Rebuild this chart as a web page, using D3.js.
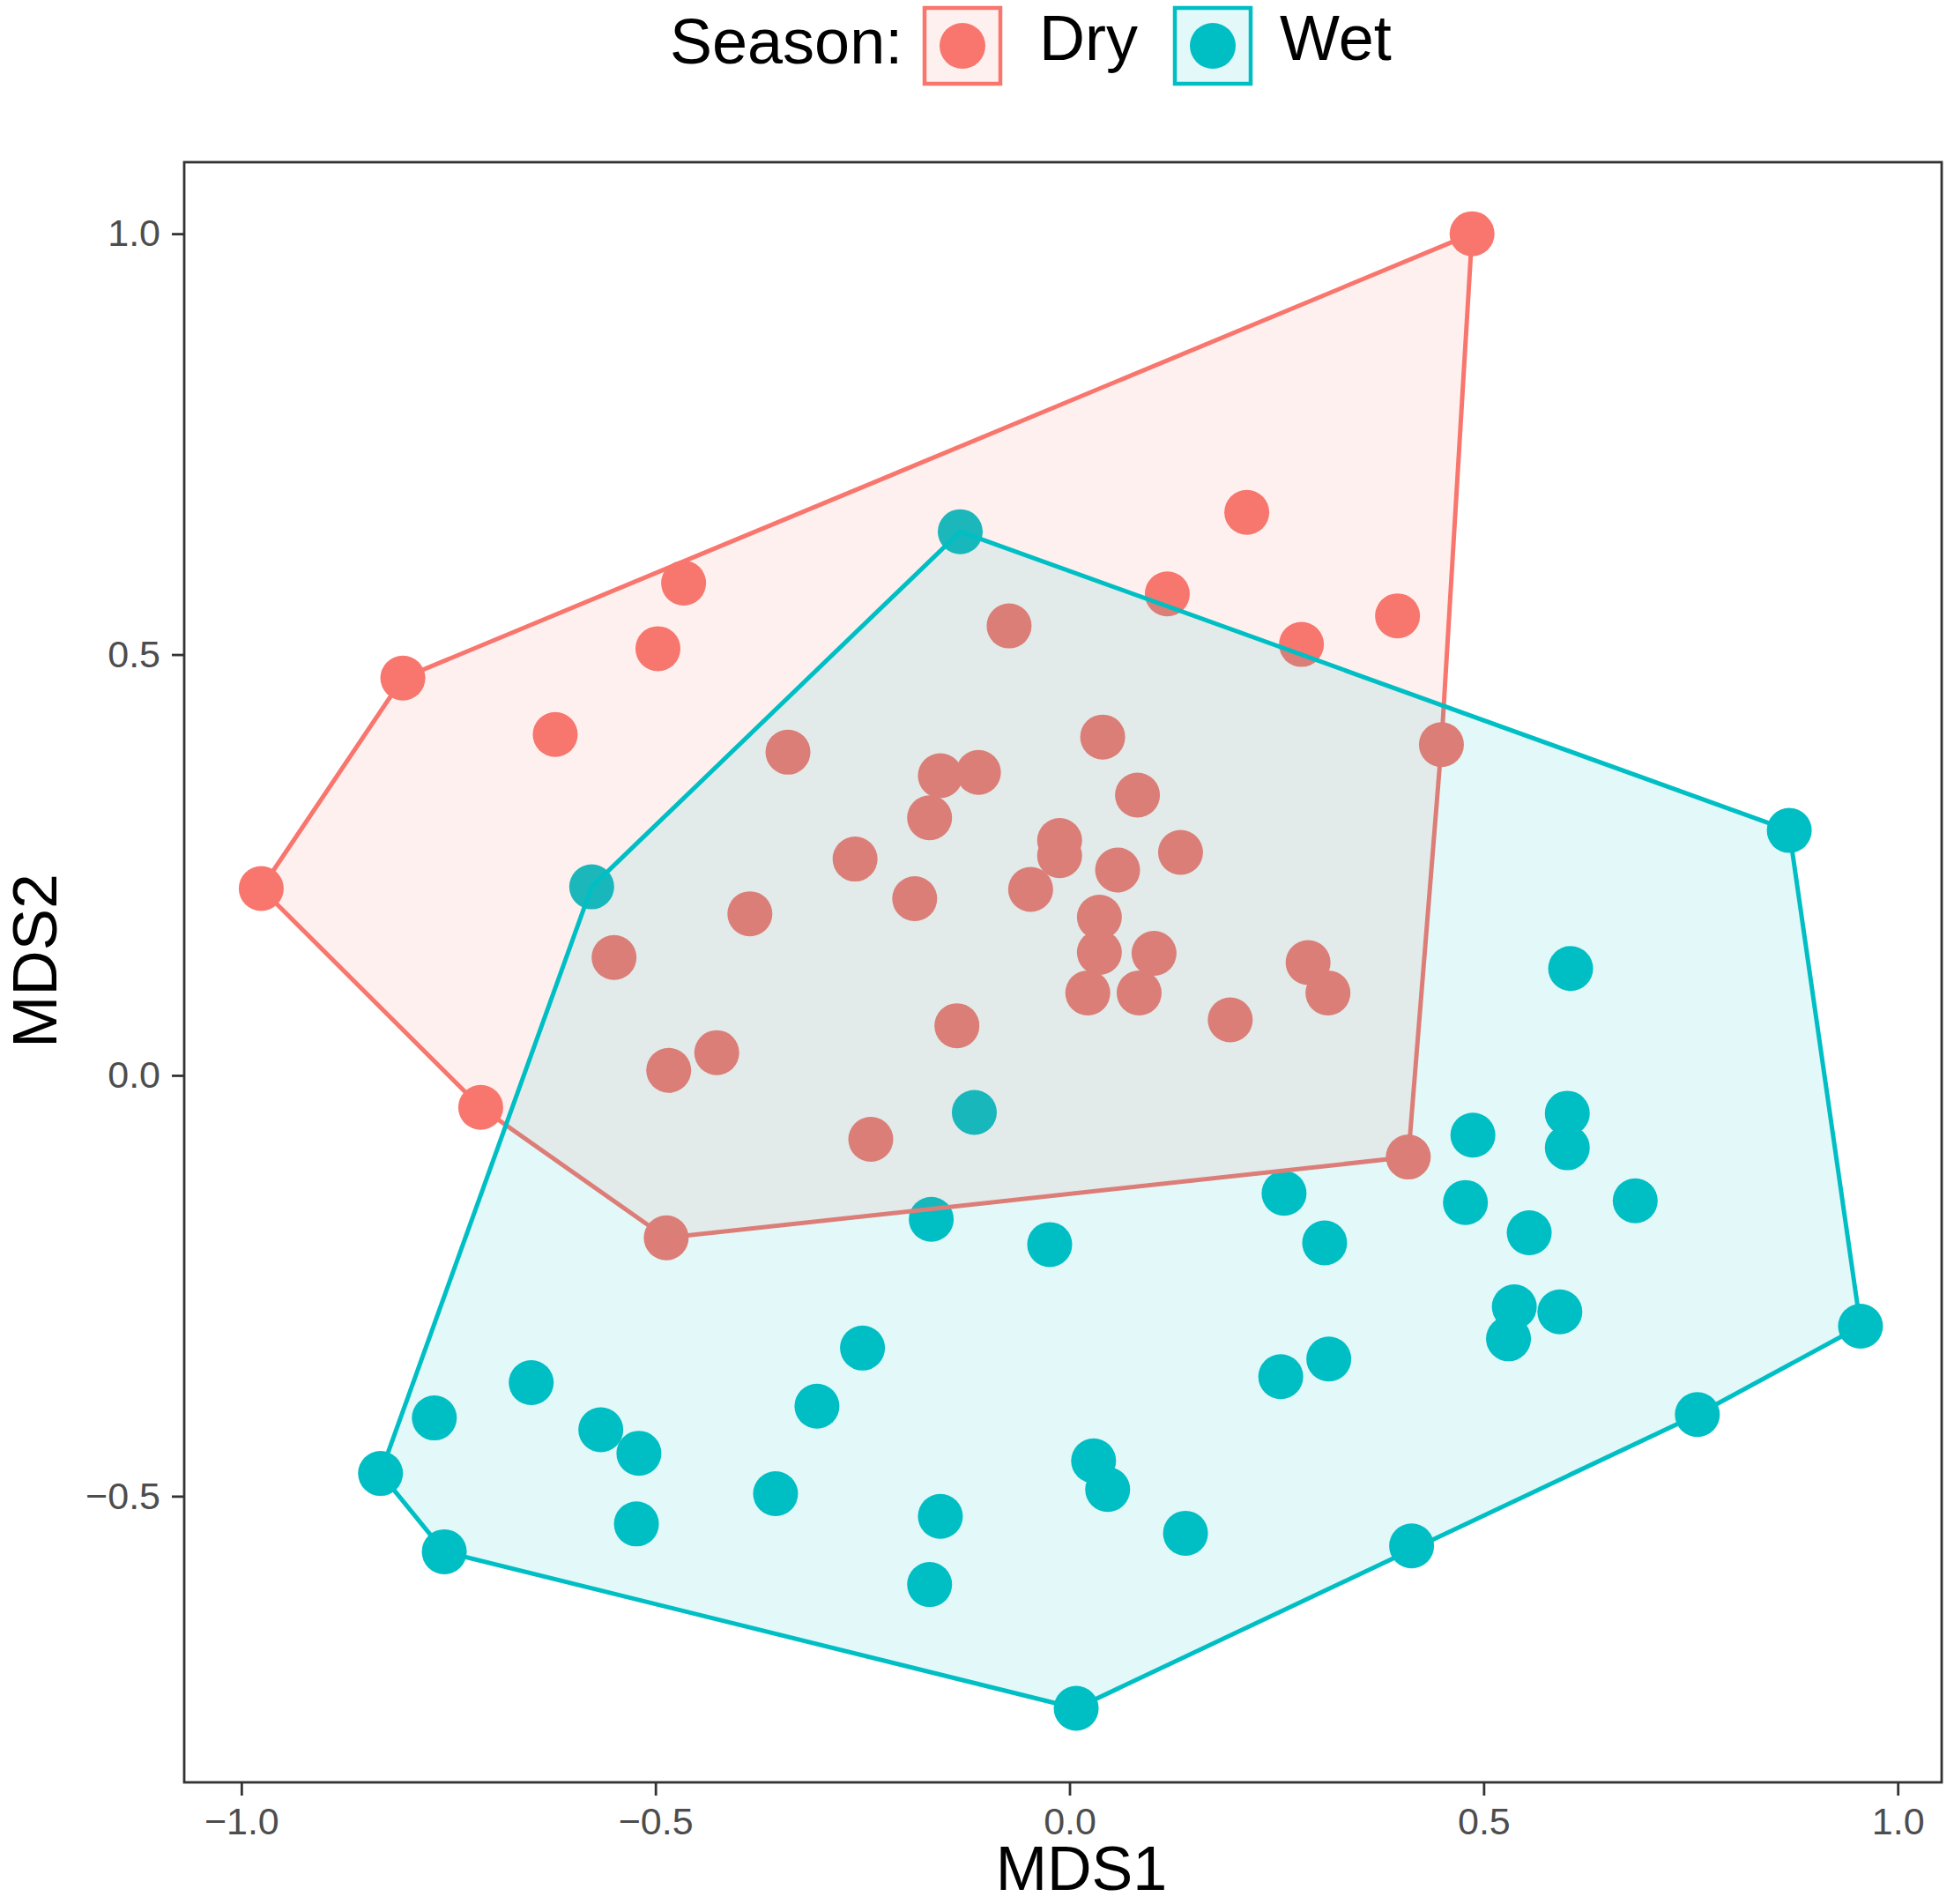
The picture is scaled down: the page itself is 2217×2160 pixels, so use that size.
<!DOCTYPE html>
<html>
<head>
<meta charset="utf-8">
<script src="https://cdn.jsdelivr.net/npm/d3@7"></script>
<style>
  body { margin: 0; background: #fff; }
  text { font-family: "Liberation Sans", Arial, sans-serif; }
</style>
</head>
<body>
<div id="vis"></div>
<script>
// NMDS scores, one array per season
var seasons = ['Dry', 'Wet'];
var seasonColors = ['#F8766D', '#00BFC4'];

var dryMDS1 = [0.486, 0.214, 0.118, 0.396, 0.280, -0.466, -0.497, -0.805, -0.621, -0.073,
    -0.340, 0.040, -0.156, -0.110, 0.449, 0.082, -0.169, -0.012, -0.012, -0.259,
    0.058, 0.134, -0.047, -0.187, -0.976, -0.386, 0.036, 0.036, 0.102, -0.550,
    0.288, 0.312, 0.022, 0.084, -0.136, 0.194, -0.426, -0.484, -0.711, -0.240,
    0.409, -0.487];
var dryMDS2 = [1.000, 0.669, 0.572, 0.546, 0.512, 0.585, 0.507, 0.472, 0.405, 0.534,
    0.384, 0.402, 0.356, 0.360, 0.393, 0.333, 0.306, 0.279, 0.261, 0.257,
    0.244, 0.265, 0.221, 0.210, 0.222, 0.192, 0.188, 0.146, 0.145, 0.140,
    0.134, 0.098, 0.098, 0.098, 0.059, 0.066, 0.027, 0.006, -0.038, -0.076,
    -0.097, -0.193];

var wetMDS1 = [-0.132, -0.577, 0.869, 0.605, -0.115, 0.487, 0.601, 0.601, 0.259, 0.478,
    0.683, -0.167, -0.024, 0.308, 0.555, 0.537, 0.592, 0.530, 0.955, -0.250,
    0.313, 0.255, -0.650, -0.767, -0.305, -0.566, -0.520, 0.029, 0.046, -0.355,
    -0.832, -0.523, -0.156, 0.140, 0.758, 0.413, -0.755, -0.169, 0.008];
var wetMDS2 = [0.646, 0.224, 0.291, 0.127, -0.044, -0.071, -0.045, -0.086, -0.140, -0.151,
    -0.149, -0.171, -0.201, -0.199, -0.187, -0.275, -0.281, -0.313, -0.298, -0.324,
    -0.337, -0.358, -0.365, -0.407, -0.393, -0.421, -0.449, -0.458, -0.492, -0.497,
    -0.473, -0.533, -0.524, -0.544, -0.403, -0.559, -0.566, -0.605, -0.752];

var xTicks = [-1.0, -0.5, 0.0, 0.5, 1.0];
var yTicks = [-0.5, 0.0, 0.5, 1.0];

// canvas and panel size
var width = 2217;
var height = 2160;
var panel = { left: 209, right: 2203, top: 184, bottom: 2022 };

var x = d3.scaleLinear()
    .domain([-1.069, 1.053])
    .range([panel.left, panel.right]);

var y = d3.scaleLinear()
    .domain([-0.840, 1.085])
    .range([panel.bottom, panel.top]);

var fmt = function (d) { return d3.format('.1f')(d).replace('-', '\u2212'); };

// build one point list per season
var groups = [
    { season: 'Dry', color: seasonColors[0], xs: dryMDS1, ys: dryMDS2 },
    { season: 'Wet', color: seasonColors[1], xs: wetMDS1, ys: wetMDS2 }
];
var points = [];
groups.forEach(function (g) {
    g.pts = g.xs.map(function (v, i) {
        return { season: g.season, color: g.color, mds1: v, mds2: g.ys[i] };
    });
    points = points.concat(g.pts);
});

var svg = d3.select('#vis').append('svg')
    .attr('width', width)
    .attr('height', height);

svg.append('rect')
    .attr('width', width)
    .attr('height', height)
    .attr('fill', '#fff');

// points go down first, hulls are laid over them
svg.append('g').selectAll('circle')
    .data(points)
    .enter()
    .append('circle')
    .attr('cx', function (d) { return x(d.mds1); })
    .attr('cy', function (d) { return y(d.mds2); })
    .attr('r', 25.5)
    .attr('fill', function (d) { return d.color; });

// convex hull for each season
svg.append('g').selectAll('path')
    .data(groups)
    .enter()
    .append('path')
    .attr('d', function (g) {
        var hull = d3.polygonHull(g.pts.map(function (d) { return [x(d.mds1), y(d.mds2)]; }));
        return 'M' + hull.join('L') + 'Z';
    })
    .attr('fill', function (g) { return g.color; })
    .attr('fill-opacity', 0.11)
    .attr('stroke', function (g) { return g.color; })
    .attr('stroke-width', 5)
    .attr('stroke-linejoin', 'round');

// panel border
svg.append('rect')
    .attr('x', panel.left)
    .attr('y', panel.top)
    .attr('width', panel.right - panel.left)
    .attr('height', panel.bottom - panel.top)
    .attr('fill', 'none')
    .attr('stroke', '#333333')
    .attr('stroke-width', 2.8);

// axes
var xAxis = d3.axisBottom(x).tickValues(xTicks).tickFormat(fmt).tickSize(15).tickPadding(13);
var yAxis = d3.axisLeft(y).tickValues(yTicks).tickFormat(fmt).tickSize(14).tickPadding(13);

var gx = svg.append('g')
    .attr('transform', 'translate(0,' + panel.bottom + ')')
    .call(xAxis);
var gy = svg.append('g')
    .attr('transform', 'translate(' + panel.left + ',0)')
    .call(yAxis);

[gx, gy].forEach(function (a) {
    a.select('.domain').remove();
    a.selectAll('.tick line').attr('stroke', '#333333').attr('stroke-width', 2.8);
    a.selectAll('.tick text')
        .attr('fill', '#4D4D4D')
        .style('font-size', '43px')
        .style('font-family', '"Liberation Sans", Arial, sans-serif');
});

// axis titles
svg.append('text')
    .attr('x', 1227)
    .attr('y', 2144)
    .attr('text-anchor', 'middle')
    .style('font-size', '70px')
    .text('MDS1');

svg.append('text')
    .attr('transform', 'translate(64,1090) rotate(-90)')
    .attr('text-anchor', 'middle')
    .style('font-size', '71px')
    .text('MDS2');

// legend on top
var legend = svg.append('g');
legend.append('text')
    .attr('x', 760)
    .attr('y', 72)
    .style('font-size', '72px')
    .text('Season:');

var keyX = [1049, 1333];
var labelX = [1179, 1452];
seasons.forEach(function (s, i) {
    legend.append('rect')
        .attr('x', keyX[i])
        .attr('y', 9)
        .attr('width', 86)
        .attr('height', 86)
        .attr('fill', seasonColors[i])
        .attr('fill-opacity', 0.11)
        .attr('stroke', seasonColors[i])
        .attr('stroke-width', 4.5);
    legend.append('circle')
        .attr('cx', keyX[i] + 43)
        .attr('cy', 52)
        .attr('r', 26)
        .attr('fill', seasonColors[i]);
    legend.append('text')
        .attr('x', labelX[i])
        .attr('y', 68)
        .style('font-size', '72px')
        .text(s);
});
</script>
</body>
</html>
